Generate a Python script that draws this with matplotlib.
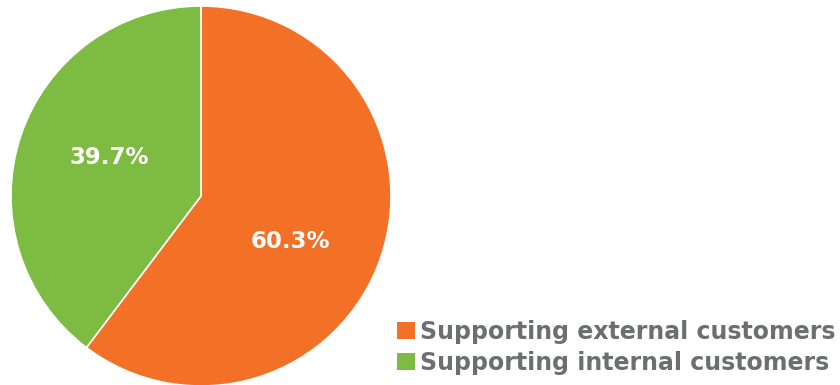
import matplotlib
matplotlib.use("Agg")
import matplotlib.pyplot as plt
from matplotlib.patches import Patch

categories = ["Supporting external customers", "Supporting internal customers"]
values = [60.3, 39.7]
colors = ["#F37027", "#7DBB42"]
text_gray = "#6D6E71"

W, H = 840, 385
fig = plt.figure(figsize=(W / 100, H / 100), dpi=100)
fig.patch.set_facecolor("white")

cx, cy, r = 201, 196, 190
ax = fig.add_axes([(cx - r) / W, (H - cy - r) / H, 2 * r / W, 2 * r / H])
wedges, texts, autotexts = ax.pie(
    values, colors=colors, startangle=90, counterclock=False,
    autopct=lambda p: f"{p:.1f}%", pctdistance=0.53,
    wedgeprops=dict(edgecolor="white", linewidth=1.2),
    textprops=dict(color="white", fontsize=16.5, fontweight="bold", family="DejaVu Sans"),
    radius=1.0,
)
ax.set_xlim(-1, 1)
ax.set_ylim(-1, 1)
ax.set_aspect("auto")
ax.axis("off")
# fine-tune label placement to match reference
autotexts[0].set_position((0.47, -0.24))
autotexts[1].set_position((-0.485, 0.205))

handles = [Patch(facecolor=c, edgecolor="none") for c in colors]
leg = fig.legend(handles, categories, loc="lower right", bbox_to_anchor=(836 / W, 10 / H),
                 frameon=False, handlelength=0.76, handleheight=0.76, handletextpad=0.22,
                 labelspacing=0.30, borderaxespad=0.0, borderpad=0.0,
                 prop=dict(size=17, weight="bold", family="DejaVu Sans"))
for t in leg.get_texts():
    t.set_color(text_gray)

fig.savefig("out.png", dpi=100, facecolor="white")
